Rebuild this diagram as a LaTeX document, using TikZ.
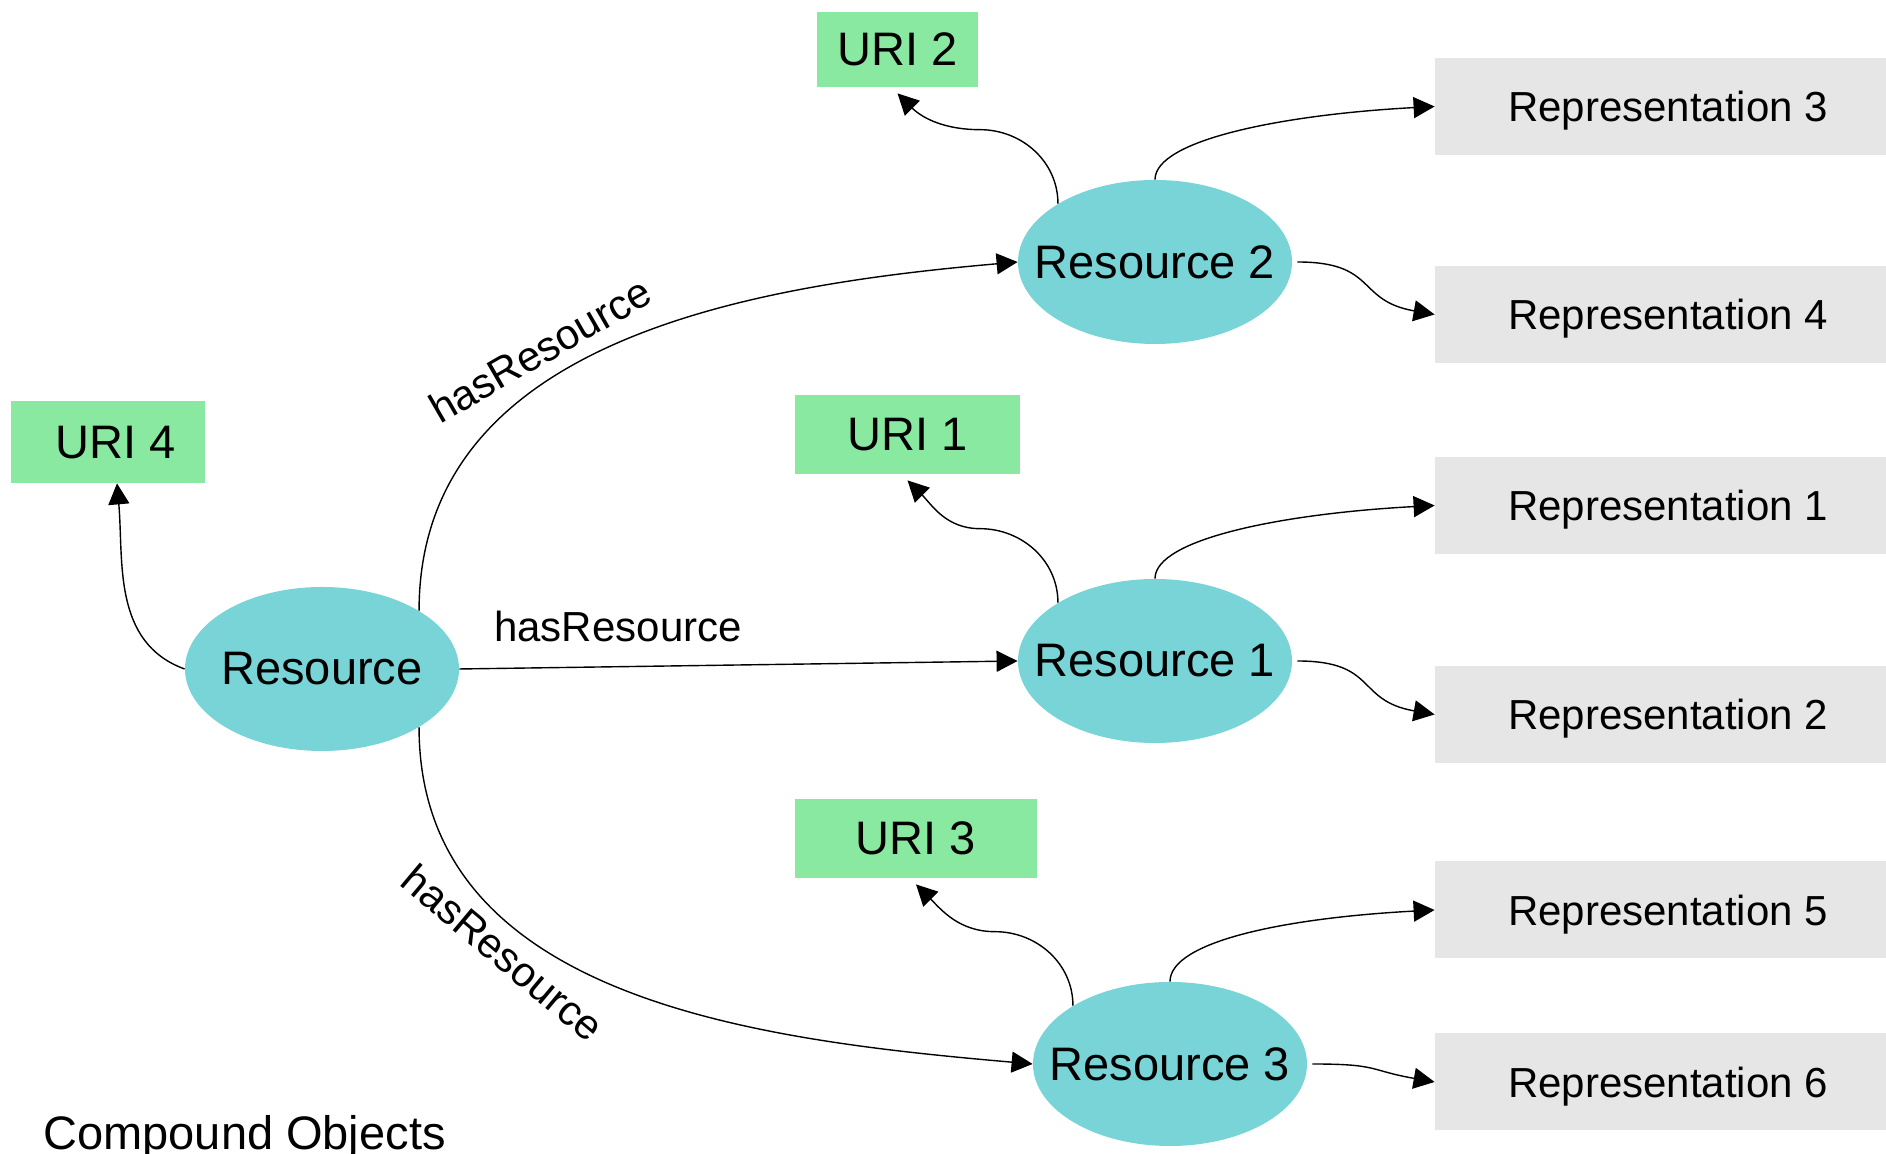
\documentclass[tikz,border=0pt]{standalone}
\usepackage{fontspec}
\setmainfont{Liberation Sans}
\usetikzlibrary{shapes.geometric, arrows.meta}

\definecolor{rescyan}{RGB}{120,212,214}
\definecolor{urigreen}{RGB}{137,233,160}
\definecolor{repgray}{RGB}{230,230,230}

\newcommand{\restxt}[1]{\makebox[0pt]{#1}}

\tikzset{
  resnode/.style={ellipse, fill=rescyan, minimum width=137pt, minimum height=82pt,
    inner sep=0pt, font=\fontsize{23.5}{28}\selectfont},
  urinode/.style={rectangle, fill=urigreen, inner sep=0pt, text depth=0pt,
    font=\fontsize{23.5}{28}\selectfont},
  repnode/.style={rectangle, fill=repgray, minimum width=233pt, minimum height=48.5pt,
    inner sep=0pt, text depth=0pt, font=\fontsize{21}{25}\selectfont},
  arr/.style={-{Triangle[length=10.5pt,width=10.5pt]}, line width=0.7pt},
  lbl/.style={inner sep=0pt, font=\fontsize{21}{25}\selectfont}
}

\begin{document}
\begin{tikzpicture}[x=0.5pt, y=0.5pt]
  \useasboundingbox (0,0) rectangle (1886,1154);

  % resources
  \node[resnode] (res)  at (322,485)  {\restxt{Resource}};
  \node[resnode] (res1) at (1155,493) {\restxt{Resource 1}};
  \node[resnode] (res2) at (1155,892) {\restxt{Resource 2}};
  \node[resnode] (res3) at (1170,90)  {\restxt{Resource 3}};

  % uri boxes
  \node[urinode, minimum width=97pt,  minimum height=41pt]   (uri4) at (108,712)     {\hspace*{8pt}URI 4};
  \node[urinode, minimum width=80.5pt, minimum height=37.5pt] (uri2) at (897.5,1104.5) {URI 2};
  \node[urinode, minimum width=112.5pt, minimum height=39.5pt] (uri1) at (907.5,719.5) {URI 1};
  \node[urinode, minimum width=121pt, minimum height=39.5pt]  (uri3) at (916,315.5)   {URI 3};

  % representations
  \foreach \n/\y in {3/1047.5, 4/839.5, 1/648.5, 2/439.5, 5/244, 6/72}{
    \node[repnode] (rep\n) at (1668,\y) {Representation \n};
  }

  %---- hasResource ----
  \draw[arr] (res.31) to[out=90,in=185] (res2.west);
  \draw[arr] (res.east) -- (res1.west);
  \draw[arr] (res.-31) to[out=-90,in=175] (res3.west);

  \node[lbl, rotate=30]  (lbltop) at (540,804) {hasResource};
  \node[lbl]             (lblmid) at (618,527) {hasResource};
  \node[lbl, rotate=-40] (lblbot) at (503,201) {hasResource};

  %---- uri links ----
  \draw[arr] (res.west) to[out=160,in=-85] ([xshift=4.5pt]uri4.south);
  \foreach \r/\u in {res1/uri1, res2/uri2, res3/uri3}{
    \draw[arr] (\r.149) to[out=90,in=0] ++(-78,74) to[out=180,in=-45] ([yshift=-3pt]\u.south);
  }

  %---- representation links ----
  \foreach \r/\p in {res1/rep1, res2/rep3, res3/rep5}{
    \draw[arr] (\r.north) .. controls +(0,40) and +(-150,-8) .. (\p.west);
  }
  \foreach \r/\p in {res1/rep2, res2/rep4, res3/rep6}{
    \draw[arr] ([xshift=2.5pt]\r.east) to[out=0,in=170,looseness=1.4] (\p.west);
  }

  \node[anchor=base west, inner sep=0pt, font=\fontsize{23.5}{28}\selectfont] (title) at (43,4) {Compound Objects};
\end{tikzpicture}
\end{document}
